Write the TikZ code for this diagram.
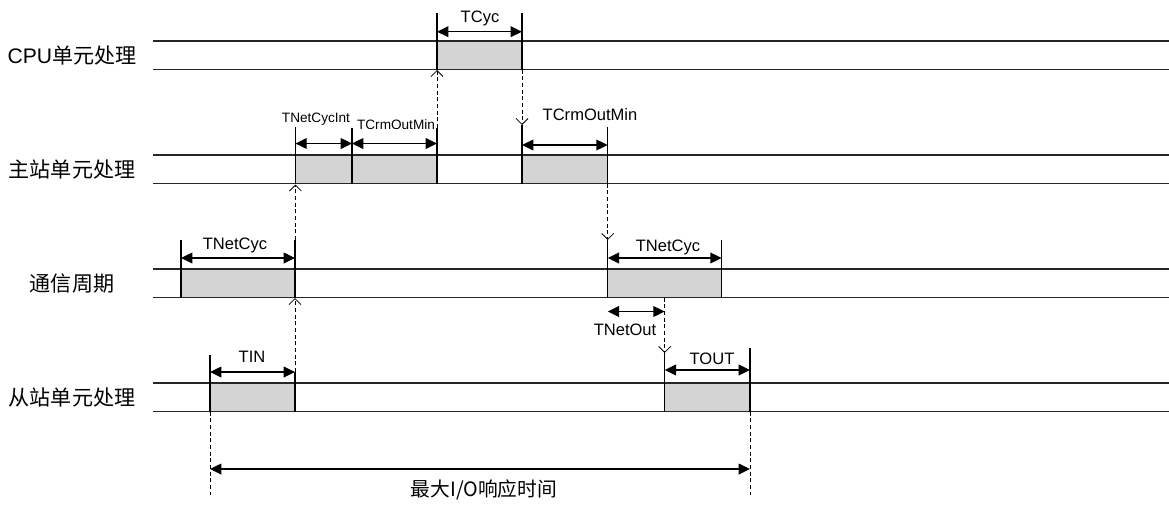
\documentclass[tikz,border=0pt]{standalone}
\usepackage{fontspec}
\setmainfont{Liberation Sans}
\newfontfamily\cjk{Noto Sans CJK SC}
\usetikzlibrary{arrows.meta}

\begin{document}
\begin{tikzpicture}[x=0.75pt, y=-0.75pt,
  rowline/.style={line width=0.9pt, black!85},
  busy/.style={fill=black!17, draw=black!45, line width=0.6pt},
  edge/.style={line width=0.9pt},
  dim/.style={line width=1.1pt, {Triangle[length=8.5pt,width=8pt]}-{Triangle[length=8.5pt,width=8pt]}},
  trig/.style={densely dashed, line width=0.6pt, -{Straight Barb[length=4.5pt,width=9pt]}},
  guide/.style={densely dashed, line width=0.6pt},
  rowname/.style={font=\fontsize{15.8}{18}\selectfont, inner sep=0pt},
  tlabel/.style={font=\fontsize{12.4}{14}\selectfont, inner sep=0pt},
  tsmall/.style={font=\fontsize{10.2}{12}\selectfont, inner sep=0pt}]
  \useasboundingbox (0,0) rectangle (1169,504);

  % busy slots
  \foreach \xa/\xb/\y in {437/522/41, 295.4/352/155, 352/437/155, 522/607.7/155,
      181/295/269, 607.7/721.7/269, 210/295/383, 664.7/750/383}
    \draw[busy] (\xa,\y) rectangle (\xb,\y+28.5);

  % row lines and names
  \foreach \y/\name/\txt in {41/cpu/{CPU\cjk 单元处理}, 155/mst/{\cjk 主站单元处理},
      269/net/{\cjk 通信周期}, 383/slv/{\cjk 从站单元处理}}{
    \draw[rowline] (153,\y) -- (1169,\y);
    \draw[rowline] (153,\y+28.5) -- (1169,\y+28.5);
    \node[rowname] (\name) at (72,\y+14.25) {\txt};
  }

  % solid edges
  \foreach \x/\ya/\yb in {437/13/69.5, 522/13/69.5,
      295.4/127/183.5, 352/128/183.5, 437/128/183.5, 522/125/183.5, 607.7/127/183.5,
      181/240/297.5, 295/240/297.5, 607.7/240/297.5, 721.7/240/297.5,
      210/355/411.5, 295/372/411.5, 664.7/353/411.5, 750/348/411.5}
    \draw[edge] (\x,\ya) -- (\x,\yb);

  % triggers
  \coordinate (cpuIn) at (437,70);    \coordinate (mstReq) at (437,128);
  \coordinate (cpuOut) at (522,69.5); \coordinate (mstIn) at (522,125);
  \coordinate (mstUp) at (295.4,184.5); \coordinate (netReq) at (295.4,240);
  \coordinate (mstOut) at (607.7,183.7); \coordinate (netIn) at (607.7,240);
  \coordinate (netUp) at (295,298);   \coordinate (slvReq) at (295,372);
  \coordinate (netOut) at (664.7,297.5); \coordinate (slvIn) at (664.7,353);
  \draw[trig] (mstReq) -- (cpuIn);
  \draw[trig] (cpuOut) -- (mstIn);
  \draw[trig] (netReq) -- (mstUp);
  \draw[trig] (mstOut) -- (netIn);
  \draw[trig] (slvReq) -- (netUp);
  \draw[trig] (netOut) -- (slvIn);
  \draw[guide] (210,411.5) -- (210,495);
  \draw[guide] (750,411.5) -- (750,495);

  % dimensions
  \draw[dim] (437,31.7) -- (522,31.7);
  \node[tlabel] (tcyc) at (480,18) {TCyc};
  \draw[dim] (295.4,143.5) -- (352,143.5);
  \node[tsmall] (tnetcycint) at (316,119) {TNetCycInt};
  \draw[dim] (352,143.5) -- (437,143.5);
  \node[tsmall] (tcrmoutA) at (396,125) {TCrmOutMin};
  \draw[dim] (522,145) -- (607.7,145);
  \node[tlabel] (tcrmoutB) at (590,115) {TCrmOutMin};
  \draw[dim] (181,258) -- (295,258);
  \node[tlabel] (tnetcycA) at (235,245) {TNetCyc};
  \draw[dim] (607.7,258) -- (721.7,258);
  \node[tlabel] (tnetcycB) at (668,247) {TNetCyc};
  \draw[dim] (607.7,311.5) -- (664.7,311.5);
  \node[tlabel] (tnetout) at (625,330) {TNetOut};
  \draw[dim] (210,372) -- (295,372);
  \node[tlabel] (tin) at (252,357) {TIN};
  \draw[dim] (664.7,370) -- (750,370);
  \node[tlabel] (tout) at (712,359) {TOUT};
  \draw[dim] (210,469) -- (750,469);
  \node[font=\cjk\fontsize{14.8}{16}\selectfont, inner sep=0pt] (maxio) at (484,490) {最大I/O响应时间};
\end{tikzpicture}
\end{document}
